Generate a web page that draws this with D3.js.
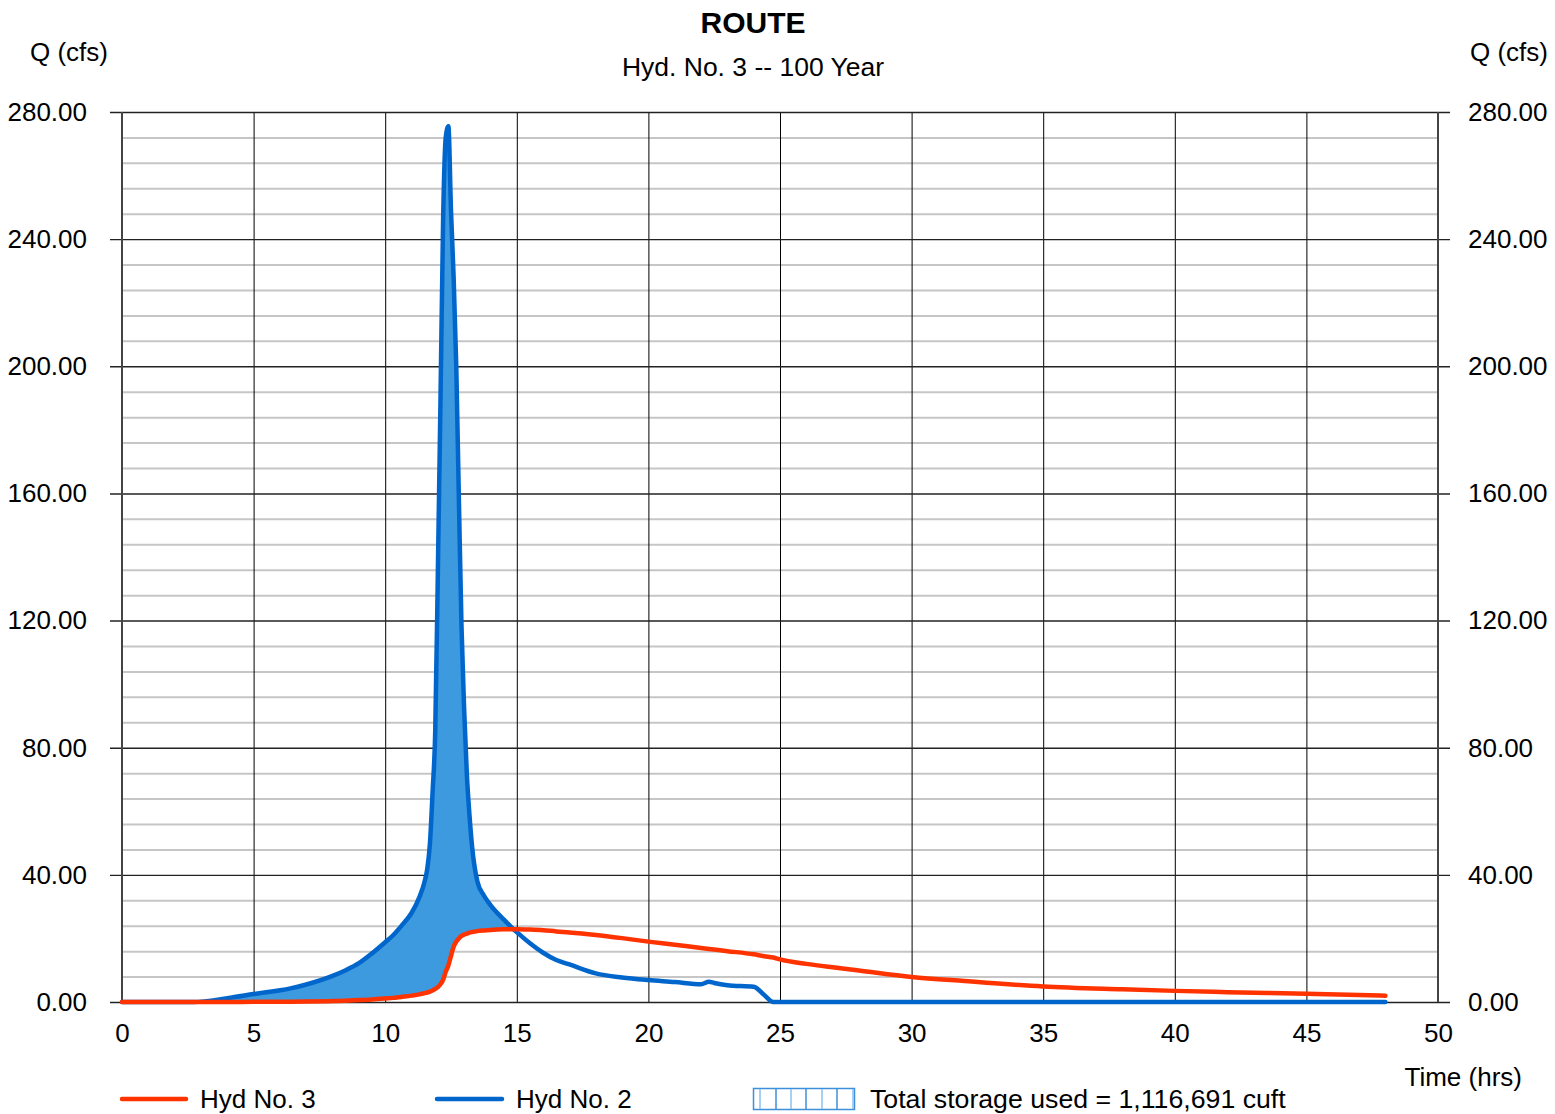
<!DOCTYPE html>
<html>
<head>
<meta charset="utf-8">
<script src="https://cdn.jsdelivr.net/npm/d3@7"></script>
<style>
  body { margin: 0; background: #fff; }
  text { font-family: "Liberation Sans", Arial, sans-serif; fill: #000; }
</style>
</head>
<body>
<script>
// time (hrs) shared by both hydrographs
var times = [0, 2.7, 4, 5, 6.4, 7, 8, 8.5, 9, 9.5, 10, 10.3, 10.6, 11, 11.3, 11.5, 11.6, 11.7, 11.8, 11.9,
  12.0, 12.1, 12.2, 12.3, 12.4, 12.5, 12.6, 12.7, 12.8, 12.9, 13.0, 13.1, 13.2, 13.3, 13.5, 13.75, 14.0, 14.5, 14.8,
  15.0, 15.5, 16.0, 16.5, 17, 18, 19, 20, 21, 22, 22.3, 22.5, 23, 24, 24.4, 24.75, 25, 26, 27, 28, 30, 32, 35, 38, 40, 42, 45, 48];

// Hyd No. 2 (inflow), cfs
var hyd2 = [0, 0, 1.2, 2.5, 4.3, 5.5, 8.2, 10.0, 12.2, 15.3, 18.8, 21.0, 23.8, 28, 33, 38, 42, 50, 66, 85,
  135, 189, 246, 272, 275.5, 249, 228, 200, 158, 118, 92, 72, 59, 49, 38, 33.5, 30.5, 26, 23.5,
  22, 18.5, 15.5, 13.2, 11.8, 9.0, 7.7, 6.9, 6.3, 5.6, 6.4, 6.0, 5.3, 4.8, 2.2, 0, 0, 0, 0, 0, 0, 0, 0, 0, 0, 0, 0, 0];

// Hyd No. 3 (routed outflow), cfs
var hyd3 = [0, 0, 0.02, 0.05, 0.1, 0.15, 0.3, 0.4, 0.6, 0.8, 1.1, 1.3, 1.6, 2.0, 2.4, 2.8, 3.0, 3.25, 3.6, 4.1,
  4.7, 5.6, 7.0, 9.5, 11.5, 14.5, 17.4, 19.0, 20.0, 20.8, 21.2, 21.5, 21.8, 22.0, 22.3, 22.5, 22.65, 22.85, 22.9,
  22.9, 22.8, 22.6, 22.2, 21.9, 21.1, 20.1, 19.0, 18.0, 17.0, 16.7, 16.5, 16.0, 15.0, 14.4, 14.0, 13.4, 12.0, 10.9, 9.9, 7.9, 6.6, 4.9, 4.0, 3.5, 3.1, 2.6, 2.0];

var qMajor = [0, 40, 80, 120, 160, 200, 240, 280];
var qMinor = d3.range(0, 281, 8).filter(function(v) { return v % 40 !== 0; });
var tTicks = [0, 5, 10, 15, 20, 25, 30, 35, 40, 45, 50];

var storageLabel = "Total storage used = 1,116,691 cuft";

var width = 1555, height = 1114;
var plotLeft = 122, plotRight = 1438, plotTop = 112, plotBottom = 1002;

var svg = d3.select("body").append("svg")
  .attr("width", width)
  .attr("height", height);

svg.append("rect").attr("width", width).attr("height", height).attr("fill", "#fff");

var x = d3.scaleLinear().domain([0, 50]).range([plotLeft, plotRight]);
var y = d3.scaleLinear().domain([0, 280]).range([plotBottom, plotTop]);

// minor horizontal grid
svg.append("g")
  .attr("transform", "translate(" + plotLeft + ",0)")
  .call(d3.axisLeft(y).tickValues(qMinor).tickSize(-(plotRight - plotLeft)).tickFormat(""))
  .call(function(g) {
    g.select(".domain").remove();
    g.selectAll("line").attr("stroke", "#c6c6c6").attr("stroke-width", 2);
  });

// vertical grid + x labels
svg.append("g")
  .attr("transform", "translate(0," + plotBottom + ")")
  .call(d3.axisBottom(x).tickValues(tTicks).tickSize(-(plotBottom - plotTop)).tickPadding(22).tickFormat(d3.format("d")))
  .call(function(g) {
    g.select(".domain").remove();
    g.selectAll("line").attr("stroke", "#000").attr("stroke-width", 1);
    g.selectAll("text").attr("font-size", 26);
  });

// major horizontal grid + left labels
svg.append("g")
  .attr("transform", "translate(110,0)")
  .call(d3.axisLeft(y).tickValues(qMajor).tickSize(-(1450 - 110)).tickPadding(23).tickFormat(d3.format(".2f")))
  .call(function(g) {
    g.select(".domain").remove();
    g.selectAll("line").attr("stroke", "#222").attr("stroke-width", 1.4);
    g.selectAll("text").attr("font-size", 26);
  });

// right labels
svg.append("g")
  .attr("transform", "translate(" + plotRight + ",0)")
  .call(d3.axisRight(y).tickValues(qMajor).tickSize(0).tickPadding(30).tickFormat(d3.format(".2f")))
  .call(function(g) {
    g.select(".domain").remove();
    g.selectAll("text").attr("font-size", 26);
  });

// plot side borders
svg.append("line").attr("x1", plotLeft).attr("x2", plotLeft).attr("y1", plotTop).attr("y2", plotBottom)
  .attr("stroke", "#444").attr("stroke-width", 2);
svg.append("line").attr("x1", plotRight).attr("x2", plotRight).attr("y1", plotTop).attr("y2", plotBottom)
  .attr("stroke", "#444").attr("stroke-width", 2);

var rows = times.map(function(t, i) { return { t: t, q2: hyd2[i], q3: hyd3[i] }; });

// storage fill between inflow and outflow
svg.append("path")
  .datum(rows)
  .attr("fill", "#3d9ade")
  .attr("d", d3.area()
    .curve(d3.curveMonotoneX)
    .x(function(d) { return x(d.t); })
    .y0(function(d) { return y(d.q3); })
    .y1(function(d) { return y(Math.max(d.q2, d.q3)); }));

var line2 = d3.line().curve(d3.curveMonotoneX)
  .x(function(d) { return x(d.t); })
  .y(function(d) { return y(d.q2); });
var line3 = d3.line().curve(d3.curveMonotoneX)
  .x(function(d) { return x(d.t); })
  .y(function(d) { return y(d.q3); });

svg.append("path").datum(rows)
  .attr("fill", "none").attr("stroke", "#0066cc").attr("stroke-width", 4.5)
  .attr("stroke-linecap", "round").attr("stroke-linejoin", "round")
  .attr("d", line2);

svg.append("path").datum(rows)
  .attr("fill", "none").attr("stroke", "#ff3300").attr("stroke-width", 4.5)
  .attr("stroke-linecap", "round").attr("stroke-linejoin", "round")
  .attr("d", line3);

// titles
svg.append("text").attr("x", 753).attr("y", 33).attr("text-anchor", "middle")
  .attr("font-size", 30).attr("font-weight", "bold").text("ROUTE");
svg.append("text").attr("x", 753).attr("y", 76).attr("text-anchor", "middle")
  .attr("font-size", 26.5).text("Hyd. No. 3 -- 100 Year");
svg.append("text").attr("x", 30).attr("y", 61).attr("font-size", 26).text("Q (cfs)");
svg.append("text").attr("x", 1548).attr("y", 61).attr("text-anchor", "end").attr("font-size", 26).text("Q (cfs)");
svg.append("text").attr("x", 1522).attr("y", 1086).attr("text-anchor", "end").attr("font-size", 26).text("Time (hrs)");

// legend
var legend = svg.append("g");
legend.append("line").attr("x1", 122).attr("x2", 186).attr("y1", 1099).attr("y2", 1099)
  .attr("stroke", "#ff3300").attr("stroke-width", 4.5).attr("stroke-linecap", "round");
legend.append("text").attr("x", 200).attr("y", 1108).attr("font-size", 26).text("Hyd No. 3");
legend.append("line").attr("x1", 437).attr("x2", 502).attr("y1", 1099).attr("y2", 1099)
  .attr("stroke", "#0066cc").attr("stroke-width", 4.5).attr("stroke-linecap", "round");
legend.append("text").attr("x", 516).attr("y", 1108).attr("font-size", 26).text("Hyd No. 2");

legend.append("rect").attr("x", 753.5).attr("y", 1088.5).attr("width", 101).attr("height", 21)
  .attr("fill", "#fff").attr("stroke", "#3d8fdc").attr("stroke-width", 1.5);
[760, 776, 791, 806, 822, 837, 853].forEach(function(hx, i) {
  legend.append("line").attr("x1", hx).attr("x2", hx).attr("y1", 1089).attr("y2", 1109)
    .attr("stroke", i % 2 ? "#3d8fdc" : "#8cc0ee").attr("stroke-width", 1.5);
});
legend.append("text").attr("x", 870).attr("y", 1108).attr("font-size", 26.7).text(storageLabel);
</script>
</body>
</html>
